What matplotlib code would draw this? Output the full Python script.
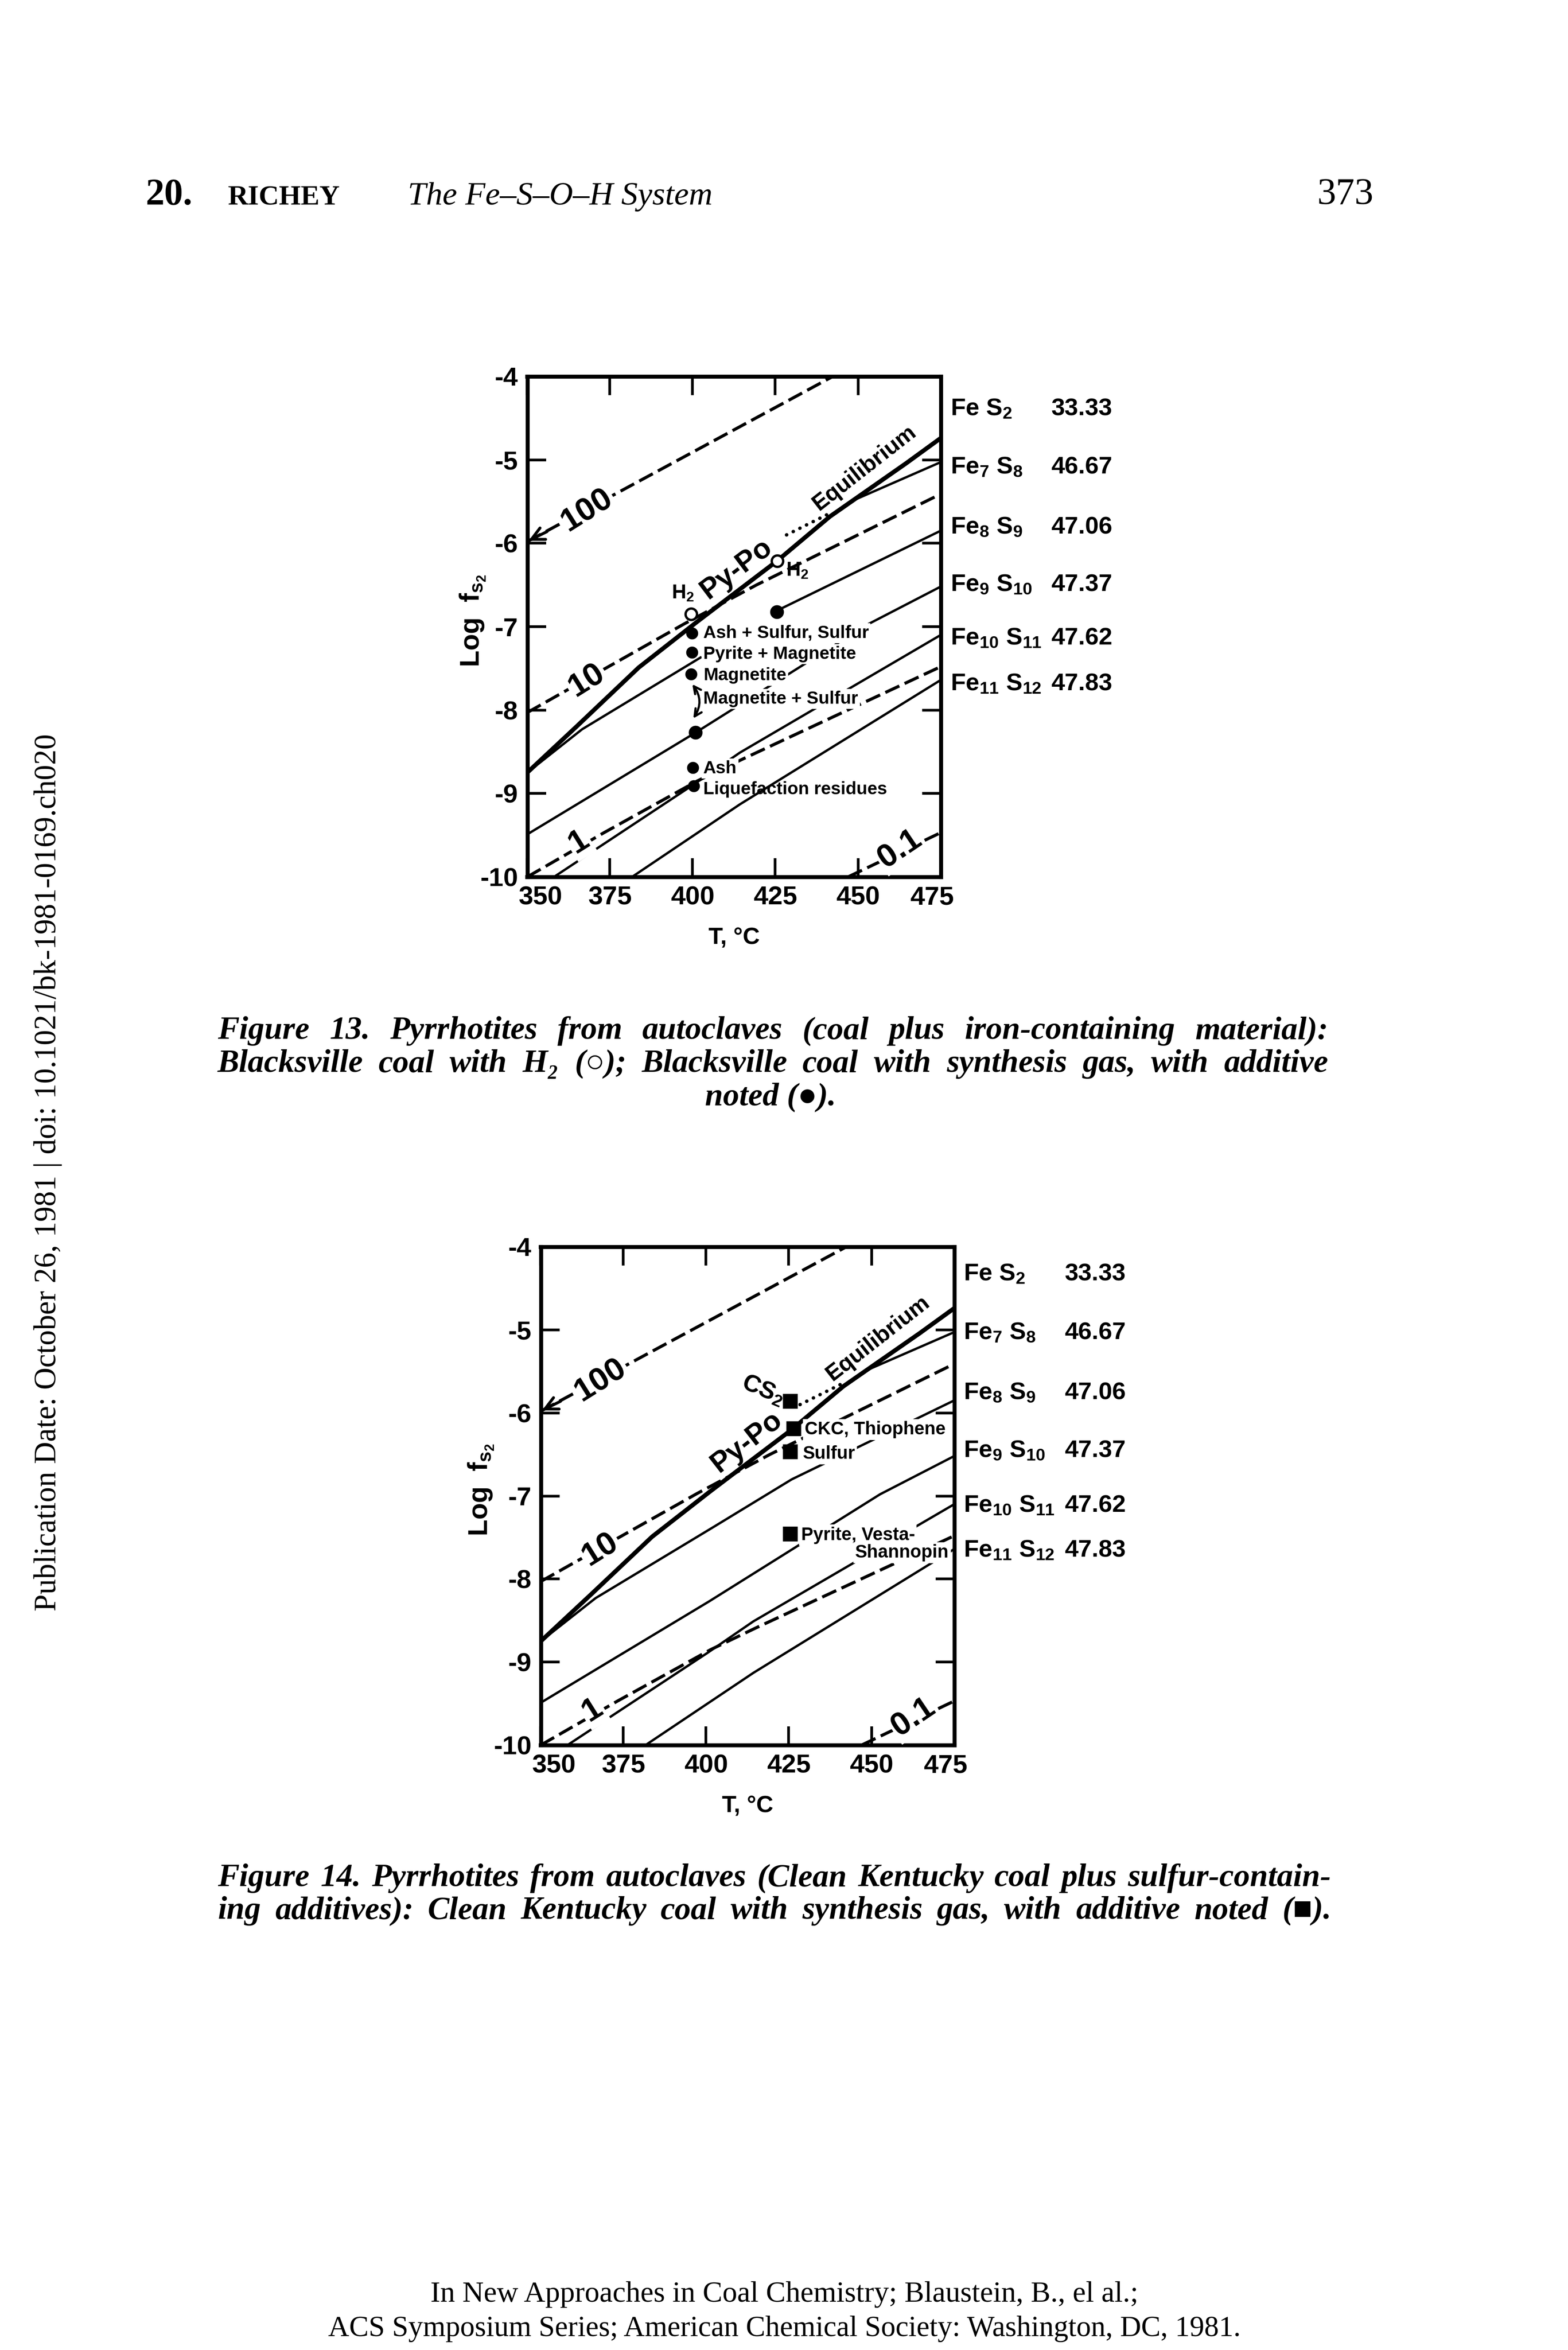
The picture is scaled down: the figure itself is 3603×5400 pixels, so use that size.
import numpy as np
import matplotlib
matplotlib.use('Agg')
import matplotlib.pyplot as plt
from matplotlib.transforms import ScaledTranslation

# ---------------- data ----------------
T_TICKS = [350, 375, 400, 425, 450, 475]
T_TICK_LABELS = ['350', '375', '400', '425', '450', '475']
LOGF_TICKS = [-4, -5, -6, -7, -8, -9, -10]
LOGF_TICK_LABELS = ['-4', '-5', '-6', '-7', '-8', '-9', '-10']

# pyrite-pyrrhotite equilibrium (thick line)
eq_T = [350, 365.1, 383.7, 401.4, 425.6, 441.5, 464.6, 475]
eq_logf = [-8.75, -8.19, -7.49, -6.94, -6.21, -5.68, -5.04, -4.74]

# pyrrhotite isopleths (thin solid lines)
fe7s8_T = [449.5, 474.3]
fe7s8_logf = [-5.47, -5.04]
fe8s9_T = [350, 366.6, 402.4, 425.9, 475]
fe8s9_logf = [-8.75, -8.23, -7.37, -6.80, -5.85]
fe9s10_T = [350, 400.9, 452.6, 475]
fe9s10_logf = [-9.49, -8.27, -6.98, -6.52]
fe10s11_T = [358.1, 400.4, 414.3, 475]
fe10s11_logf = [-10.0, -8.89, -8.51, -7.10]
fe11s12_T = [381.7, 414.3, 475]
fe11s12_logf = [-10.0, -9.13, -7.64]

# H2S/H2 ratio lines (dashed)
ratio100_T = [350, 442.4]
ratio100_logf = [-5.98, -4.0]
ratio10_T = [350, 397.3, 419.3, 475]
ratio10_logf = [-8.03, -6.97, -6.50, -5.41]
ratio1_T = [350, 373.2, 401.4, 415.0, 475]
ratio1_logf = [-10.0, -9.47, -8.85, -8.59, -7.48]
ratio01_T = [447, 475]
ratio01_logf = [-10.0, -9.47]
ratio_labels = ['100', '10', '1', '0.1']

# dotted extension
dots_T = [428.4, 441.5]
dots_logf = [-5.90, -5.64]

phase_names = ['Fe S$_2$', 'Fe$_7$ S$_8$', 'Fe$_8$ S$_9$', 'Fe$_9$ S$_{10}$',
               'Fe$_{10}$ S$_{11}$', 'Fe$_{11}$ S$_{12}$']
phase_pct = ['33.33', '46.67', '47.06', '47.37', '47.62', '47.83']

# Figure 13 points
h2_T = [399.6, 425.6]
h2_logf = [-6.85, -6.21]
syn_big_T = [425.5, 400.9]
syn_big_logf = [-6.82, -8.27]
syn_T = [399.8, 399.8, 399.6, 400.1, 400.3]
syn_logf = [-7.08, -7.31, -7.57, -8.69, -8.91]
syn_labels = ['Ash + Sulfur, Sulfur', 'Pyrite + Magnetite', 'Magnetite',
              'Magnetite + Sulfur', 'Ash', 'Liquefaction residues']

# Figure 14 points
add_T = [425.4, 426.5, 425.4, 425.4]
add_logf = [-5.86, -6.19, -6.47, -7.46]
add_labels = ['CS$_2$', 'CKC, Thiophene', 'Sulfur', 'Pyrite, Vesta-', 'Shannopin']

# ---------------- style ----------------
W, H, DPI = 3603, 5400, 300
plt.rcParams['font.family'] = ['Liberation Sans', 'DejaVu Sans']
plt.rcParams['mathtext.fontset'] = 'custom'
plt.rcParams['mathtext.rm'] = 'Liberation Sans:bold'
plt.rcParams['mathtext.it'] = 'Liberation Sans:bold'
plt.rcParams['mathtext.bf'] = 'Liberation Sans:bold'
plt.rcParams['mathtext.default'] = 'rm'
plt.rcParams['lines.scale_dashes'] = False
plt.rcParams['axes.linewidth'] = 2.2

SERIF = ['Liberation Serif', 'DejaVu Serif']
NARROW = ['Liberation Sans Narrow', 'Liberation Sans', 'DejaVu Sans']

fig = plt.figure(figsize=(W / DPI, H / DPI), dpi=DPI)
fig.patch.set_facecolor('white')
renderer = fig.canvas.get_renderer()

ax1 = fig.add_axes([1211.5 / W, 1 - 2015 / H, 950 / W, 1150 / H])
ax2 = fig.add_axes([1242.5 / W, 1 - 4010 / H, 950 / W, 1145 / H])

WHITE = dict(facecolor='white', edgecolor='none', pad=1.0)


def base_diagram(ax, ylab_x, xlab_y, phase_centers, fe8s9_gap):
    ax.set_xlim(350, 475)
    ax.set_ylim(-10, -4)
    ax.set_xticks(T_TICKS, T_TICK_LABELS, fontweight='bold', fontsize=14.5)
    ax.set_yticks(LOGF_TICKS, LOGF_TICK_LABELS, fontweight='bold', fontsize=14.5)
    ax.tick_params(direction='in', length=10.3, width=1.5, top=True, right=True, pad=5)
    xl = ax.get_xticklabels()
    xl[0].set_transform(xl[0].get_transform() + ScaledTranslation(7.2 / 72, 0, fig.dpi_scale_trans))
    xl[-1].set_transform(xl[-1].get_transform() + ScaledTranslation(-4.8 / 72, 0, fig.dpi_scale_trans))

    ax.plot(eq_T, eq_logf, color='k', lw=2.4, zorder=3)
    if fe8s9_gap:
        ax.plot(fe8s9_T[:3], fe8s9_logf[:3], color='k', lw=1.3, zorder=2)
        ax.plot(fe8s9_T[3:], fe8s9_logf[3:], color='k', lw=1.3, zorder=2)
    else:
        ax.plot(fe8s9_T, fe8s9_logf, color='k', lw=1.3, zorder=2)
    for T, v in [(fe7s8_T, fe7s8_logf), (fe9s10_T, fe9s10_logf),
                 (fe10s11_T, fe10s11_logf), (fe11s12_T, fe11s12_logf)]:
        ax.plot(T, v, color='k', lw=1.3, zorder=2)
    for T, v in [(ratio100_T, ratio100_logf), (ratio10_T, ratio10_logf),
                 (ratio1_T, ratio1_logf), (ratio01_T, ratio01_logf)]:
        ax.plot(T, v, color='k', lw=1.7, dashes=(8.5, 3.2), zorder=2)
    ax.plot(dots_T, dots_logf, color='k', lw=1.9, linestyle=(0, (0.1, 4.0)),
            dash_capstyle='round', zorder=2)
    ax.annotate('', xy=(350.4, ratio100_logf[0] + 0.01), xytext=(356.0, -5.86),
                arrowprops=dict(arrowstyle='->,head_length=0.7,head_width=0.35',
                                lw=1.6, color='k', shrinkA=0, shrinkB=0), zorder=3)

    label_pos = [(368.0, -5.60, 32), (367.9, -7.64, 32), (365.6, -9.58, 32), (462.6, -9.66, 34)]
    for lab, (T, v, r) in zip(ratio_labels, label_pos):
        ax.text(T, v, lab, rotation=r, rotation_mode='anchor', ha='center', va='center',
                family=NARROW, fontsize=18, fontweight='bold', bbox=WHITE, zorder=4)

    ax.text(452.0, -5.10, 'Equilibrium', rotation=38, rotation_mode='anchor',
            ha='center', va='center', fontsize=12.5, fontweight='bold', zorder=4)

    # right-hand composition column
    tr = ax.get_yaxis_transform()
    for name, pct, c in zip(phase_names, phase_pct, phase_centers):
        ax.text(1 + 22 / 950, c - 0.105, name, transform=tr, ha='left', va='baseline',
                fontsize=13.5, fontweight='bold')
        ax.text(1 + 254 / 950, c - 0.105, pct, transform=tr, ha='left', va='baseline',
                fontsize=13.5, fontweight='bold')

    ax.text(ylab_x, 0.512, 'Log  f$_{s_2}$', transform=ax.transAxes, rotation=90,
            ha='center', va='center', fontsize=15, fontweight='bold')
    ax.text(0.5, xlab_y, 'T, °C', transform=ax.transAxes, ha='center', va='center',
            fontsize=13, fontweight='bold')


base_diagram(ax1, -124.5 / 950, -139 / 1150, [-4.36, -5.06, -5.78, -6.47, -7.11, -7.66], True)
base_diagram(ax2, -136.5 / 950, -140 / 1145, [-4.30, -5.01, -5.73, -6.43, -7.09, -7.63], False)

# ----- Figure 13 annotations -----
ax1.plot(h2_T, h2_logf, 'o', ms=6.3, mfc='white', mec='k', mew=1.3, zorder=6)
ax1.plot(syn_big_T, syn_big_logf, 'o', ms=6.6, color='k', zorder=6)
ax1.plot(syn_T, syn_logf, 'o', ms=5.6, color='k', zorder=6)
ax1.text(397.0, -6.60, 'H$_2$', ha='center', va='center', fontsize=11, fontweight='bold', zorder=5)
ax1.text(431.6, -6.33, 'H$_2$', ha='center', va='center', fontsize=11, fontweight='bold', zorder=5)
ax1.text(413.2, -6.31, 'Py-Po', rotation=37, rotation_mode='anchor', ha='center', va='center',
         family=NARROW, fontsize=16, fontweight='bold', zorder=5)
syn_base = [-7.135, -7.385, -7.644, -7.923, -8.76, -9.01]
for i, (lab, b) in enumerate(zip(syn_labels, syn_base)):
    ax1.text(403.2, b, lab, ha='left', va='baseline', fontsize=9.8, fontweight='bold',
             bbox=(WHITE if i < len(syn_labels) - 1 else None), zorder=5)
ax1.annotate('', xy=(400.2, -8.10), xytext=(399.9, -7.69),
             arrowprops=dict(arrowstyle='<->,head_length=0.4,head_width=0.2', lw=1.2,
                             color='k', connectionstyle='arc3,rad=-0.35',
                             shrinkA=0, shrinkB=0), zorder=6)

# ----- Figure 14 annotations -----
ax2.plot(add_T, add_logf, 's', ms=7.2, color='k', zorder=6)
ax2.text(417.2, -5.73, add_labels[0], rotation=-23, rotation_mode='anchor', ha='center',
         va='center', fontsize=13.5, fontweight='bold', zorder=5)
ax2.text(429.8, -6.26, add_labels[1], ha='left', va='baseline', fontsize=10,
         fontweight='bold', bbox=WHITE, zorder=5)
ax2.text(429.2, -6.55, add_labels[2], ha='left', va='baseline', fontsize=10,
         fontweight='bold', bbox=WHITE, zorder=5)
ax2.text(428.7, -7.53, add_labels[3], ha='left', va='baseline', fontsize=10,
         fontweight='bold', bbox=WHITE, zorder=5)
ax2.text(473.4, -7.74, add_labels[4], ha='right', va='baseline', fontsize=10,
         fontweight='bold', bbox=WHITE, zorder=5)
ax2.text(412.3, -6.35, 'Py-Po', rotation=38, rotation_mode='anchor', ha='center', va='center',
         family=NARROW, fontsize=16, fontweight='bold', zorder=5)

# ---------------- page text ----------------

def fig_text(x, y, s, **kw):
    return fig.text(x / W, 1 - y / H, s, **kw)


def fit(t, target, horizontal=True):
    ext = t.get_window_extent(renderer)
    size = ext.width if horizontal else ext.height
    t.set_fontsize(t.get_fontsize() * target / size)
    return t


def justify(s, x0, x1, y, **kw):
    words = s.split()
    arts = [fig_text(0, y, w, ha='left', va='baseline', **kw) for w in words]
    widths = [a.get_window_extent(renderer).width for a in arts]
    gap = (x1 - x0 - sum(widths)) / (len(words) - 1)
    x = x0
    for a, wd in zip(arts, widths):
        a.set_x(x / W)
        x += wd + gap


# header
t_title = fit(fig_text(937, 470, 'The Fe–S–O–H System', family=SERIF, style='italic',
                       fontsize=19, ha='left', va='baseline'), 700)
t_num = fit(fig_text(3156, 470, '373', family=SERIF, fontsize=19, ha='right',
                     va='baseline'), 130)
fig_text(334, 470, '20.', family=SERIF, fontsize=t_num.get_fontsize(), fontweight='bold',
         ha='left', va='baseline')
fit(fig_text(524, 470, 'RICHEY', family=SERIF, fontsize=14, fontweight='bold',
             ha='left', va='baseline'), 258)

# side text
fit(fig_text(110, 2694, 'Publication Date: October 26, 1981 | doi: 10.1021/bk-1981-0169.ch020',
             family=SERIF, fontsize=16, rotation=90, ha='center', va='center'),
    2015, horizontal=False)

# captions: size chosen so the longest line fits naturally, then lines are justified
cap1 = ['Figure 13.  Pyrrhotites from autoclaves (coal plus iron-containing material):',
        'Blacksville coal with H₂ (○); Blacksville coal with synthesis gas, with additive',
        'noted (●).']
cap2 = ['Figure 14.  Pyrrhotites from autoclaves (Clean Kentucky coal plus sulfur-contain-',
        'ing additives): Clean Kentucky coal with synthesis gas, with additive noted (■).']
probe = fit(fig_text(0, 0, cap2[0], family=SERIF, style='italic', fontweight='bold',
                     fontsize=15), 2559 * 0.985)
cap_fs = probe.get_fontsize()
probe.remove()
CAP = dict(family=SERIF, style='italic', fontweight='bold', fontsize=cap_fs)
justify(cap1[0], 500, 3052, 2387, **CAP)
justify(cap1[1], 500, 3052, 2463, **CAP)
fig_text(1771, 2539, cap1[2], ha='center', va='baseline', **CAP)
justify(cap2[0], 500, 3059, 4334, **CAP)
justify(cap2[1], 500, 3059, 4409, **CAP)

# footer
fit(fig_text(1802, 5289, 'In New Approaches in Coal Chemistry; Blaustein, B., el al.;',
             family=SERIF, fontsize=15, ha='center', va='baseline'), 1626)
fit(fig_text(1802, 5368, 'ACS Symposium Series; American Chemical Society: Washington, DC, 1981.',
             family=SERIF, fontsize=15, ha='center', va='baseline'), 2098)

fig.savefig('out.png', dpi=DPI, facecolor='white')
